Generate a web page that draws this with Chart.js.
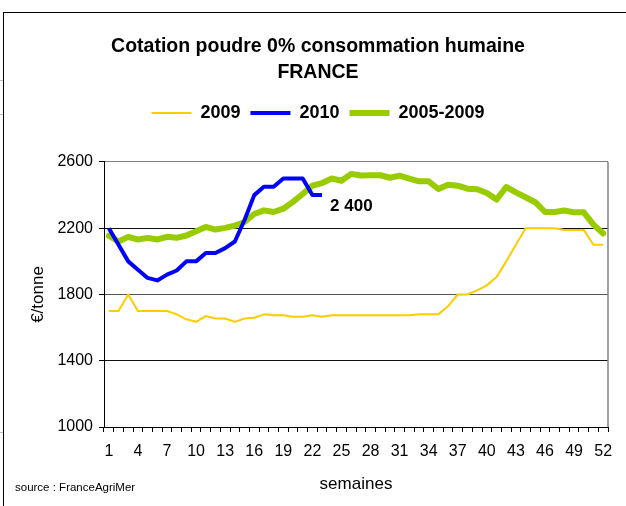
<!DOCTYPE html>
<html>
<head>
<meta charset="utf-8">
<script src="https://cdn.jsdelivr.net/npm/chart.js@4/dist/chart.umd.min.js"></script>
<style>
  body { margin: 0; background: #fff; }
  #wrap { position: relative; width: 626px; height: 506px; overflow: hidden; }
  #frame { position: absolute; left: 3px; top: 12px; right: -5px; bottom: -5px; border-top: 1.5px solid #000; border-left: 1.5px solid #000; }
  .cell { position: absolute; left: 0; width: 3px; height: 1px; background: #bbb; }
  #chart { position: absolute; left: 0; top: 0; }
  #source { position: absolute; left: 15px; top: 481px; font: 11.5px "Liberation Sans", Arial, sans-serif; line-height: 13px; color: #000; }
</style>
</head>
<body>
<div id="wrap">
  <div id="frame"></div>
  <div class="cell" style="top:80px"></div>
  <div class="cell" style="top:114px"></div>
  <div class="cell" style="top:432px"></div>
  <canvas id="chart" width="626" height="506"></canvas>
  <div id="source">source : FranceAgriMer</div>
</div>
<script>
"use strict";

const FONT = '"Liberation Sans", Arial, sans-serif';

// weeks 1..52
const weeks = [1, 2, 3, 4, 5, 6, 7, 8, 9, 10, 11, 12, 13, 14, 15, 16, 17, 18, 19, 20,
  21, 22, 23, 24, 25, 26, 27, 28, 29, 30, 31, 32, 33, 34, 35, 36, 37, 38, 39, 40,
  41, 42, 43, 44, 45, 46, 47, 48, 49, 50, 51, 52];

// €/tonne
const price2009 = [1700, 1700, 1800, 1700, 1700, 1700, 1700, 1680, 1650, 1635,
  1670, 1655, 1655, 1635, 1655, 1660, 1680, 1675, 1675, 1665,
  1665, 1675, 1665, 1675, 1675, 1675, 1675, 1675, 1675, 1675,
  1675, 1675, 1680, 1680, 1680, 1730, 1800, 1800, 1825, 1855,
  1905, 2000, 2100, 2200, 2200, 2200, 2200, 2190, 2190, 2190,
  2100, 2100];

const price2010 = [2200, 2100, 2000, 1950, 1900, 1885, 1920, 1945, 2000, 2000,
  2050, 2050, 2080, 2120, 2250, 2400, 2450, 2450, 2500, 2500,
  2500, 2400, 2400];

const price0509 = [2155, 2120, 2148, 2132, 2142, 2132, 2148, 2142, 2156, 2182,
  2208, 2192, 2202, 2216, 2238, 2286, 2308, 2298, 2318, 2359,
  2407, 2457, 2473, 2500, 2487, 2528, 2518, 2520, 2520, 2505,
  2518, 2500, 2483, 2483, 2437, 2463, 2457, 2439, 2435, 2413,
  2373, 2449, 2417, 2387, 2357, 2298, 2298, 2307, 2296, 2296,
  2222, 2168];

const yTicks = [1000, 1400, 1800, 2200, 2600];
const lastLabel = "2 400";

// gray right edge of the plot area + the "2 400" note
const extras = {
  id: "extras",
  afterDraw(chart) {
    const { ctx, chartArea } = chart;
    ctx.save();
    ctx.strokeStyle = "#808080";
    ctx.lineWidth = 1.5;
    ctx.beginPath();
    ctx.moveTo(chartArea.right, chartArea.top);
    ctx.lineTo(chartArea.right, chartArea.bottom);
    ctx.stroke();

    const pts = chart.getDatasetMeta(1).data;
    const last = pts[pts.length - 1];
    ctx.fillStyle = "#000";
    ctx.font = "bold 17px " + FONT;
    ctx.textBaseline = "alphabetic";
    ctx.fillText(lastLabel, last.x + 8, last.y + 16);
    ctx.restore();
  }
};

function gridColor(c) {
  const v = c.tick.value;
  if (v === 2600) return "#808080";
  if (v === 1800) return "#555";
  return "#111";
}

new Chart(document.getElementById("chart"), {
  type: "line",
  data: {
    labels: weeks,
    datasets: [
      {
        label: "2009",
        data: price2009,
        borderColor: "#FFCC00",
        backgroundColor: "#FFCC00",
        borderWidth: 2,
        pointRadius: 0,
        tension: 0,
        borderJoinStyle: "round"
      },
      {
        label: "2010",
        data: price2010,
        borderColor: "#0000FF",
        backgroundColor: "#0000FF",
        borderWidth: 4,
        pointRadius: 0,
        tension: 0,
        borderJoinStyle: "round"
      },
      {
        label: "2005-2009",
        data: price0509,
        borderColor: "#99CC00",
        backgroundColor: "#99CC00",
        borderWidth: 6,
        pointRadius: 0,
        tension: 0,
        borderJoinStyle: "round",
        borderCapStyle: "round"
      }
    ]
  },
  options: {
    responsive: false,
    animation: false,
    layout: { padding: { left: 28, right: 18, top: 0, bottom: 0 } },
    plugins: {
      tooltip: { enabled: false },
      title: {
        display: true,
        text: ["Cotation poudre 0% consommation humaine", "FRANCE"],
        color: "#000",
        font: { family: FONT, size: 19.5, weight: "bold", lineHeight: 1.333 },
        padding: { top: 34, bottom: 8 }
      },
      legend: {
        display: true,
        position: "top",
        labels: {
          color: "#000",
          font: { family: FONT, size: 18, weight: "bold" },
          usePointStyle: true,
          pointStyle: "line",
          pointStyleWidth: 40,
          padding: 10
        }
      },
      subtitle: {
        // spacer between legend and plot
        display: true,
        text: "",
        position: "top",
        weight: 500,
        font: { size: 10, lineHeight: 1 },
        padding: { top: 0, bottom: 20 }
      }
    },
    scales: {
      x: {
        type: "category",
        offset: true,
        grid: {
          offset: true,
          drawOnChartArea: false,
          drawTicks: true,
          tickLength: 5,
          color: "#000"
        },
        border: { color: "#000", width: 1 },
        ticks: {
          autoSkip: false,
          maxRotation: 0,
          padding: 10,
          color: "#000",
          font: { family: FONT, size: 16 },
          callback: (v, i) => (i % 3 === 0 ? weeks[i] : "")
        },
        title: {
          display: true,
          text: "semaines",
          color: "#000",
          font: { family: FONT, size: 17 },
          padding: { top: 0, bottom: 11 }
        },
        afterFit: (s) => { s.height = 79; }
      },
      y: {
        min: yTicks[0],
        max: yTicks[yTicks.length - 1],
        ticks: {
          stepSize: 400,
          padding: 6,
          color: "#000",
          font: { family: FONT, size: 16 },
          callback: (v) => String(v)
        },
        grid: {
          color: gridColor,
          tickColor: "#000",
          tickLength: 5,
          lineWidth: 1
        },
        border: { color: "#000", width: 1 },
        title: {
          display: true,
          text: "€/tonne",
          color: "#000",
          font: { family: FONT, size: 17 },
          padding: { top: 0, bottom: 0 }
        },
        afterFit: (s) => { s.width = 76; }
      }
    }
  },
  plugins: [extras]
});
</script>
</body>
</html>
